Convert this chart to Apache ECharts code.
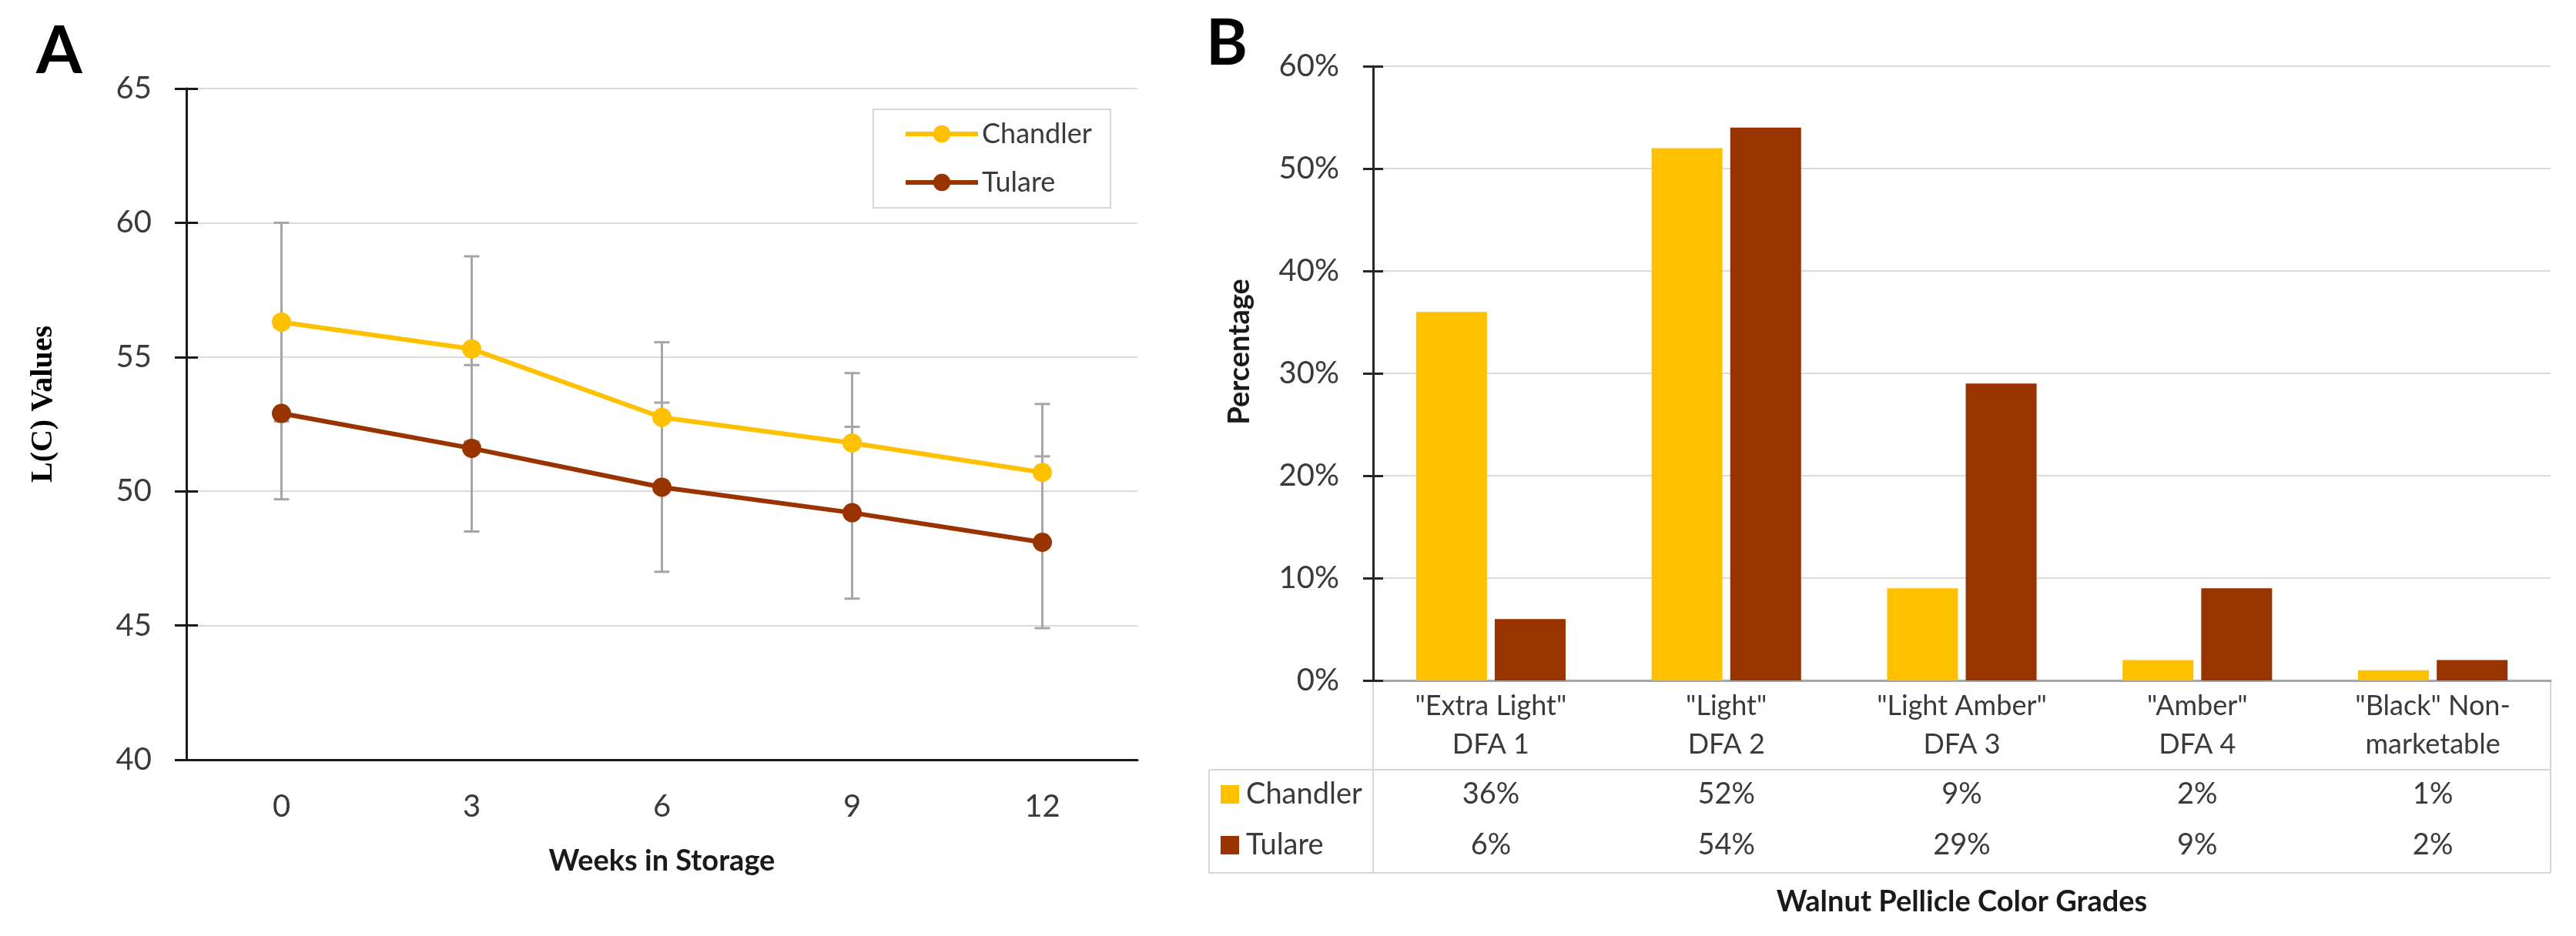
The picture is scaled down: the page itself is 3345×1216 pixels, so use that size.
<!DOCTYPE html>
<html><head><meta charset="utf-8">
<script src="https://cdn.jsdelivr.net/npm/echarts@6/dist/echarts.min.js"></script>
<style>html,body{margin:0;padding:0;background:#fff}#c{width:3345px;height:1216px}</style>
</head><body><div id="c"></div>
<script>
// ---- Panel A data ----
const weeks = ['0', '3', '6', '9', '12'];
const chandlerL = [56.3, 55.3, 52.75, 51.8, 50.7];
const chandlerSD = [3.7, 3.45, 2.8, 2.6, 2.55];
const tulareL = [52.9, 51.6, 50.15, 49.2, 48.1];
const tulareSD = [3.2, 3.1, 3.15, 3.2, 3.2];
// ---- Panel B data ----
const grades = ['"Extra Light"\nDFA 1', '"Light"\nDFA 2', '"Light Amber"\nDFA 3', '"Amber"\nDFA 4', '"Black" Non-\nmarketable'];
const chandlerPct = [36, 52, 9, 2, 1];
const tularePct = [6, 54, 29, 9, 2];

const GOLD = '#FFC000', BROWN = '#993300';
const FONT = 'Lato, "Open Sans", sans-serif';
const AX = '#1a1a1a', GRID = '#dcdcdc', TXT = '#3a3a3a';

const chart = echarts.init(document.getElementById('c'), null, {renderer: 'canvas'});

function errRender(params, api) {
  const x = api.value(0), lo = api.value(1), hi = api.value(2);
  const pLo = api.coord([x, lo]), pHi = api.coord([x, hi]);
  const hw = 10;
  const style = {stroke: '#a6a6a6', lineWidth: 3};
  return {type: 'group', children: [
    {type: 'line', shape: {x1: pLo[0], y1: pLo[1], x2: pHi[0], y2: pHi[1]}, style: style},
    {type: 'line', shape: {x1: pLo[0] - hw, y1: pLo[1], x2: pLo[0] + hw, y2: pLo[1]}, style: style},
    {type: 'line', shape: {x1: pHi[0] - hw, y1: pHi[1], x2: pHi[0] + hw, y2: pHi[1]}, style: style}
  ]};
}

// table geometry (decoration around panel B's data table)
const TL = 1570, TR = 3312, AXB = 1783, T0 = 884, T1 = 1000, T2 = 1134;
const tableStyle = {stroke: '#d6d6d6', lineWidth: 2};

const option = {
  backgroundColor: '#fff',
  animation: false,
  textStyle: {fontFamily: FONT},
  grid: [
    {left: 242, top: 115, width: 1235, height: 872},
    {left: 1783, top: 86, width: 1529, height: 798}
  ],
  xAxis: [
    {type: 'category', gridIndex: 0, data: weeks, boundaryGap: true,
     axisLine: {lineStyle: {color: AX, width: 3}},
     axisTick: {length: 15, lineStyle: {color: AX, width: 3}},
     axisLabel: {fontSize: 40, color: TXT, margin: 41, lineHeight: 40, fontFamily: FONT},
     name: 'Weeks in Storage', nameLocation: 'middle', nameGap: 113,
     nameTextStyle: {fontSize: 38, fontWeight: 'bold', color: AX, fontFamily: FONT}},
    {type: 'category', gridIndex: 0, data: weeks, boundaryGap: true, position: 'bottom',
     axisLine: {show: false}, axisLabel: {show: false}, splitLine: {show: false},
     axisTick: {inside: true, length: 15, lineStyle: {color: AX, width: 3}}},
    {type: 'category', gridIndex: 1, data: grades,
     axisLine: {lineStyle: {color: '#a6a6a6', width: 3}},
     axisTick: {show: false},
     axisLabel: {fontSize: 36, color: TXT, margin: 8, lineHeight: 50, fontFamily: FONT},
     name: 'Walnut Pellicle Color Grades', nameLocation: 'middle', nameGap: 269,
     nameTextStyle: {fontSize: 38, fontWeight: 'bold', color: AX, fontFamily: FONT}},
    {type: 'category', gridIndex: 1, data: chandlerPct.map(v => v + '%'), position: 'bottom', offset: 115,
     axisLine: {show: false}, axisTick: {show: false}, splitLine: {show: false},
     axisLabel: {fontSize: 38, color: TXT, margin: 8, lineHeight: 50, fontFamily: FONT}},
    {type: 'category', gridIndex: 1, data: tularePct.map(v => v + '%'), position: 'bottom', offset: 181,
     axisLine: {show: false}, axisTick: {show: false}, splitLine: {show: false},
     axisLabel: {fontSize: 38, color: TXT, margin: 8, lineHeight: 50, fontFamily: FONT}}
  ],
  yAxis: [
    {type: 'value', gridIndex: 0, min: 40, max: 65, interval: 5,
     axisLine: {show: true, lineStyle: {color: AX, width: 3}},
     axisTick: {show: true, length: 15, lineStyle: {color: AX, width: 3}},
     axisLabel: {fontSize: 40, color: TXT, margin: 45, fontFamily: FONT},
     splitLine: {lineStyle: {color: GRID, width: 2}}},
    {type: 'value', gridIndex: 0, min: 40, max: 65, interval: 5, position: 'left',
     axisLine: {show: false}, axisLabel: {show: false}, splitLine: {show: false},
     axisTick: {show: true, inside: true, length: 15, lineStyle: {color: AX, width: 3}}},
    {type: 'value', gridIndex: 1, min: 0, max: 60, interval: 10,
     axisLine: {show: true, lineStyle: {color: '#262626', width: 3}},
     axisTick: {show: true, length: 13, lineStyle: {color: '#262626', width: 3}},
     axisLabel: {fontSize: 40, color: TXT, margin: 44, formatter: '{value}%', fontFamily: FONT},
     splitLine: {lineStyle: {color: GRID, width: 2}}},
    {type: 'value', gridIndex: 1, min: 0, max: 60, interval: 10, position: 'left',
     axisLine: {show: false}, axisLabel: {show: false}, splitLine: {show: false},
     axisTick: {show: true, inside: true, length: 13, lineStyle: {color: '#262626', width: 3}}}
  ],
  legend: [
    {data: ['Chandler', 'Tulare'], left: 1134, top: 142, orient: 'vertical',
     itemWidth: 94, itemHeight: 28, itemGap: 23, selectedMode: false,
     lineStyle: {width: 6},
     textStyle: {fontSize: 36, lineHeight: 40, color: TXT, fontFamily: FONT},
     borderColor: '#d6d6d6', borderWidth: 2, padding: [12, 24, 13, 39]},
    {data: [{name: 'Chandler', icon: 'rect'}, {name: 'Tulare', icon: 'rect'}],
     left: 1585, top: 1012, orient: 'vertical', selectedMode: false,
     itemWidth: 24, itemHeight: 24, itemGap: 26, padding: 0,
     textStyle: {fontSize: 38, lineHeight: 40, color: TXT, fontFamily: FONT, padding: [0, 0, 0, 4]}}
  ],
  series: [
    {name: 'Chandler', type: 'line', xAxisIndex: 0, yAxisIndex: 0, data: chandlerL, z: 4,
     color: GOLD, lineStyle: {width: 6, color: GOLD}, symbol: 'circle', symbolSize: 25,
     itemStyle: {color: GOLD}},
    {name: 'Tulare', type: 'line', xAxisIndex: 0, yAxisIndex: 0, data: tulareL, z: 4,
     color: BROWN, lineStyle: {width: 6, color: BROWN}, symbol: 'circle', symbolSize: 25,
     itemStyle: {color: BROWN}},
    {name: 'Chandler SD', type: 'custom', xAxisIndex: 0, yAxisIndex: 0, z: 2,
     renderItem: errRender, encode: {x: 0, y: [1, 2]},
     data: chandlerL.map((v, i) => [i, v - chandlerSD[i], v + chandlerSD[i]])},
    {name: 'Tulare SD', type: 'custom', xAxisIndex: 0, yAxisIndex: 0, z: 2,
     renderItem: errRender, encode: {x: 0, y: [1, 2]},
     data: tulareL.map((v, i) => [i, v - tulareSD[i], v + tulareSD[i]])},
    {name: 'Chandler', type: 'bar', xAxisIndex: 2, yAxisIndex: 2, data: chandlerPct,
     barWidth: 92, barGap: '11%', itemStyle: {color: GOLD}},
    {name: 'Tulare', type: 'bar', xAxisIndex: 2, yAxisIndex: 2, data: tularePct,
     barWidth: 92, barGap: '11%', itemStyle: {color: BROWN}}
  ],
  graphic: [
    {type: 'text', x: 47, y: 67, style: {text: 'A', font: 'bold 86px ' + FONT, fill: '#000',
      textAlign: 'left', textVerticalAlign: 'middle', align: 'left', verticalAlign: 'middle'}},
    {type: 'text', x: 1566, y: 58, style: {text: 'B', font: 'bold 82px ' + FONT, fill: '#000',
      textAlign: 'left', textVerticalAlign: 'middle', align: 'left', verticalAlign: 'middle'}},
    {type: 'text', x: 57, y: 525, rotation: Math.PI / 2,
     style: {text: 'L(C) Values', font: 'bold 40px "Liberation Serif", serif', fill: '#000',
      textAlign: 'center', textVerticalAlign: 'middle', align: 'center', verticalAlign: 'middle'}},
    {type: 'text', x: 1610, y: 457, rotation: Math.PI / 2,
     style: {text: 'Percentage', font: 'bold 38px ' + FONT, fill: AX,
      textAlign: 'center', textVerticalAlign: 'middle', align: 'center', verticalAlign: 'middle'}},
    {type: 'line', shape: {x1: TL, y1: T1, x2: TR, y2: T1}, style: tableStyle, z: -1},
    {type: 'line', shape: {x1: TL, y1: T2, x2: TR, y2: T2}, style: tableStyle, z: -1},
    {type: 'line', shape: {x1: TL, y1: T1, x2: TL, y2: T2}, style: tableStyle, z: -1},
    {type: 'line', shape: {x1: AXB, y1: T0, x2: AXB, y2: T2}, style: tableStyle, z: -1},
    {type: 'line', shape: {x1: TR, y1: T0, x2: TR, y2: T2}, style: tableStyle, z: -1}
  ]
};
chart.setOption(option);
</script>
</body></html>
